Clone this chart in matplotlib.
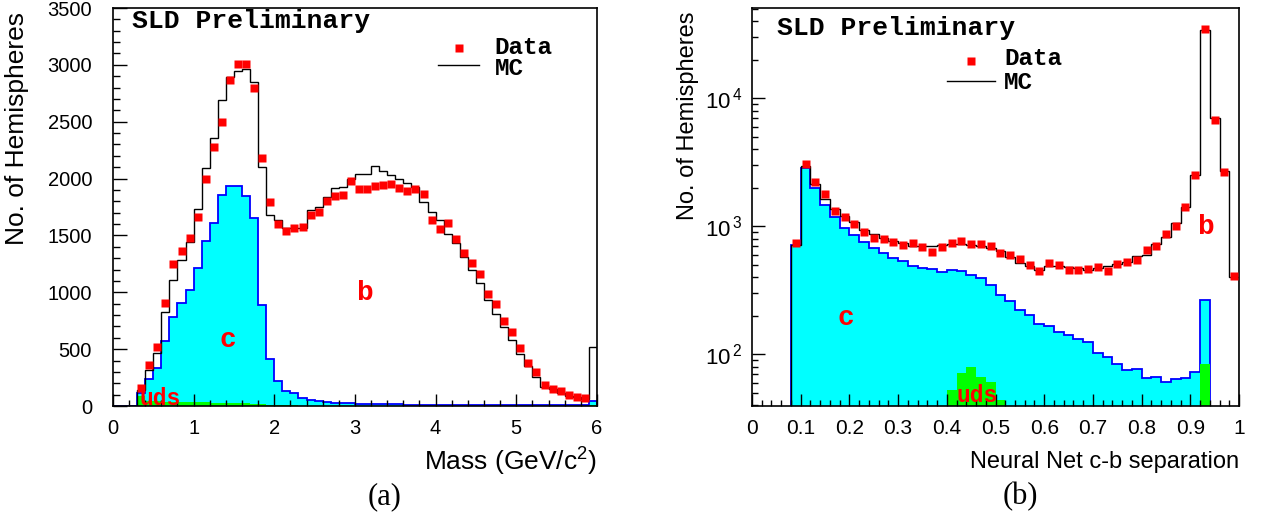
import numpy as np
import matplotlib.pyplot as plt
from matplotlib import ticker

# fonts: Helvetica-like for axes, Courier-like for the in-plot labels
plt.rcParams['font.family'] = ['Liberation Sans', 'DejaVu Sans']
plt.rcParams['mathtext.default'] = 'regular'

nan = np.nan

# (a) vertex mass, 60 bins of 0.1 GeV/c^2 from 0 to 6
mass_edges = np.linspace(0, 6, 61)
mass_data = [nan, nan, nan, 155, 360, 522, 908, 1249, 1366, 1480,
             1660, 1997, 2275, 2500, 2868, 3006, 3006, 2800, 2182, 1798,
             1602, 1538, 1564, 1573, 1684, 1704, 1807, 1845, 1854, 1982,
             1910, 1910, 1939, 1940, 1953, 1918, 1895, 1910, 1860, 1640,
             1558, 1608, 1465, 1345, 1257, 1158, 989, 895, 748, 652,
             511, 374, 301, 184, 146, 132, 96, 76, 67, nan]
mass_mc = [0, 0, 0, 140, 316, 468, 827, 1105, 1281, 1441,
           1734, 2094, 2357, 2690, 2889, 2947, 2962, 2845, 2105, 1680,
           1640, 1561, 1561, 1561, 1725, 1754, 1836, 1918, 1930, 2000,
           2040, 2040, 2108, 2070, 2035, 1997, 1962, 1924, 1792, 1704,
           1638, 1509, 1432, 1310, 1199, 1082, 936, 813, 696, 579,
           456, 351, 257, 164, 146, 111, 90, 76, 59, 515]
mass_c = [0, 0, 0, 111, 234, 336, 570, 784, 909, 1023,
          1217, 1450, 1608, 1857, 1939, 1933, 1851, 1652, 892, 412,
          222, 134, 111, 67, 53, 44, 36, 29, 25, 22,
          20, 18, 17, 16, 15, 14, 13, 12, 12, 11,
          10, 10, 9, 9, 8, 8, 8, 7, 7, 7,
          6, 6, 6, 6, 6, 6, 6, 6, 8, 45]
mass_uds = [0, 0, 0, 90, 45, 40, 38, 36, 35, 35,
            33, 32, 30, 28, 27, 25, 22, 20, 18, 12,
            8, 6, 5, 4, 3, 3, 2, 2, 2, 2,
            2, 2, 2, 2, 2, 2, 2, 2, 2, 2,
            2, 2, 2, 2, 2, 2, 2, 2, 2, 2,
            2, 2, 2, 2, 2, 2, 2, 2, 2, 10]

# (b) neural net output, 50 bins of 0.02 from 0 to 1
nn_edges = np.linspace(0, 1, 51)
nn_data = [nan, nan, nan, nan, 738, 3077, 2200, 1800, 1316, 1181,
           1037, 904, 804, 793, 761, 716, 738, 684, 625, 692,
           738, 769, 725, 734, 703, 618, 596, 555, 498, 450,
           517, 498, 459, 459, 465, 478, 450, 507, 523, 548,
           655, 696, 867, 1005, 1422, 2530, 34700, 6750, 2640, 407]
nn_mc = [0, 0, 0, 0, 713, 2960, 2150, 1642, 1372, 1202,
         1080, 935, 867, 817, 769, 738, 703, 703, 703, 713,
         725, 725, 718, 703, 683, 644, 571, 514, 492, 459,
         492, 492, 478, 470, 459, 470, 492, 507, 523, 582,
         596, 725, 832, 1055, 1422, 2530, 34100, 6960, 2685, 400]
nn_c = [0, 0, 0, 0, 713, 2850, 2000, 1456, 1189, 977,
        851, 748, 672, 618, 562, 533, 492, 470, 464, 443,
        456, 446, 419, 393, 349, 292, 259, 224, 204, 174,
        167, 150, 141, 131, 124, 102, 96, 84, 76, 77,
        65, 66, 61, 64, 65, 73, 264, 0, 0, 0]
nn_uds = [0, 0, 0, 0, 0, 0, 0, 0, 0, 0,
          0, 0, 0, 0, 0, 0, 0, 0, 0, 0,
          53, 71, 80, 67, 61, 44, 0, 0, 0, 0,
          0, 0, 0, 0, 0, 0, 0, 0, 0, 0,
          0, 0, 0, 0, 0, 0, 84, 0, 0, 0]

RED = '#ff0000'
CYAN = '#00ffff'
BLUE = '#0000ff'
GREEN = '#00ff00'
MONO = 'Liberation Mono'


def draw_hists(ax, edges, c, uds, mc, data, base):
    # base is the floor used for the steps (0 on linear, below ymin on log)
    centers = 0.5 * (edges[:-1] + edges[1:])
    c = np.maximum(c, base)
    uds = np.maximum(uds, base)
    mc = np.maximum(mc, base)
    ax.stairs(c, edges, baseline=base, fill=True, color=CYAN, lw=0)
    ax.stairs(c, edges, baseline=base, color=BLUE, lw=1.3)
    ax.stairs(uds, edges, baseline=base, fill=True, color=GREEN, lw=0)
    ax.stairs(mc, edges, baseline=base, color='black', lw=1.0)
    ax.plot(centers, data, 's', color=RED, ms=6.3, mec='none', zorder=4)


def add_key(ax, xm, ym, xl, yl, xt, yt_data, yt_mc, size):
    # hand-placed legend in the ROOT style
    ax.plot([xm], [ym], 's', color=RED, ms=6.3, mec='none', transform=ax.transAxes)
    ax.plot(xl, [yl, yl], color='black', lw=1.0, transform=ax.transAxes)
    ax.text(xt, yt_data, 'Data', transform=ax.transAxes, family=MONO, weight='bold', fontsize=size)
    ax.text(xt, yt_mc, 'MC', transform=ax.transAxes, family=MONO, weight='bold', fontsize=size)


fig = plt.figure(figsize=(12.69, 5.27), dpi=100)
ax1 = fig.add_axes([0.0890, 0.2296, 0.3814, 0.7552])
ax2 = fig.add_axes([0.5926, 0.2296, 0.3838, 0.7552])

# --- (a) mass ---
draw_hists(ax1, mass_edges, mass_c, mass_uds, mass_mc, mass_data, 0)
ax1.set_xlim(0, 6)
ax1.set_ylim(0, 3500)
ax1.xaxis.set_major_locator(ticker.MultipleLocator(1))
ax1.xaxis.set_minor_locator(ticker.MultipleLocator(0.2))
ax1.yaxis.set_major_locator(ticker.MultipleLocator(500))
ax1.yaxis.set_minor_locator(ticker.MultipleLocator(100))
ax1.tick_params(which='both', direction='in', top=False, right=False, width=1.0)
ax1.tick_params(axis='x', which='major', length=9, pad=9, labelsize=14.5)
ax1.tick_params(axis='x', which='minor', length=4.3)
ax1.tick_params(axis='y', which='major', length=10, pad=15, labelsize=14.5)
ax1.tick_params(axis='y', which='minor', length=5)
ax1.set_ylabel('No. of Hemispheres', fontsize=19, loc='top')
ax1.yaxis.set_label_coords(-0.174, 0.99)
ax1.set_xlabel('Mass (GeV/c$^2$)', fontsize=19, loc='right')
ax1.xaxis.set_label_coords(1.0, -0.141)
ax1.xaxis.label.set_va('center')

ax1.text(0.039, 0.950, 'SLD Preliminary', transform=ax1.transAxes,
         family=MONO, weight='bold', fontsize=19)
add_key(ax1, 0.715, 0.899, [0.671, 0.756], 0.857, 0.789, 0.884, 0.832, 17.5)
ax1.text(3.13, 994, 'b', color=RED, family=MONO, weight='bold', fontsize=20, ha='center', va='center')
ax1.text(1.425, 580, 'c', color=RED, family=MONO, weight='bold', fontsize=20, ha='center', va='center')
ax1.text(0.58, 70, 'uds', color=RED, family=MONO, weight='bold', fontsize=16.5, ha='center', va='center')

# --- (b) neural net ---
ax2.set_yscale('log')
draw_hists(ax2, nn_edges, nn_c, nn_uds, nn_mc, nn_data, 1)
ax2.set_xlim(0, 1)
ax2.set_ylim(39.5, 50700)
ax2.xaxis.set_major_locator(ticker.MultipleLocator(0.1))
ax2.xaxis.set_minor_locator(ticker.MultipleLocator(0.02))
ax2.xaxis.set_major_formatter(ticker.FuncFormatter(lambda v, p: f'{v:g}'))
ax2.yaxis.set_major_locator(ticker.LogLocator(base=10))
ax2.yaxis.set_minor_locator(ticker.LogLocator(base=10, subs=np.arange(2, 10)))
ax2.yaxis.set_minor_formatter(ticker.NullFormatter())
ax2.yaxis.set_major_formatter(ticker.FuncFormatter(lambda v, p: r'$10^{\,%d}$' % round(np.log10(v))))
ax2.tick_params(which='both', direction='in', top=False, right=False, width=1.0)
ax2.tick_params(axis='x', which='major', length=9, pad=9, labelsize=15)
ax2.tick_params(axis='x', which='minor', length=4.5)
ax2.tick_params(axis='y', which='major', length=9, pad=7, labelsize=16)
ax2.tick_params(axis='y', which='minor', length=4.5)
ax2.set_ylabel('No. of Hemispheres', fontsize=17, loc='top')
ax2.yaxis.set_label_coords(-0.109, 0.99)
ax2.set_xlabel('Neural Net c-b separation', fontsize=17, loc='right')
ax2.xaxis.set_label_coords(1.0, -0.141)
ax2.xaxis.label.set_va('center')

ax2.text(0.051, 0.932, 'SLD Preliminary', transform=ax2.transAxes,
         family=MONO, weight='bold', fontsize=19)
add_key(ax2, 0.449, 0.867, [0.400, 0.498], 0.817, 0.518, 0.857, 0.797, 17.5)
ax2.text(0.932, 988, 'b', color=RED, family=MONO, weight='bold', fontsize=20, ha='center', va='center')
ax2.text(0.193, 192, 'c', color=RED, family=MONO, weight='bold', fontsize=20, ha='center', va='center')
ax2.text(0.463, 48, 'uds', color=RED, family=MONO, weight='bold', fontsize=16.5, ha='center', va='center')

for ax in (ax1, ax2):
    for sp in ax.spines.values():
        sp.set_linewidth(1.2)

fig.text(385 / 1269, 1 - 497 / 527, '(a)', family='Liberation Serif', fontsize=22, ha='center', va='center')
fig.text(1020 / 1269, 1 - 497 / 527, '(b)', family='Liberation Serif', fontsize=22, ha='center', va='center')

fig.savefig('out.png', dpi=100)
